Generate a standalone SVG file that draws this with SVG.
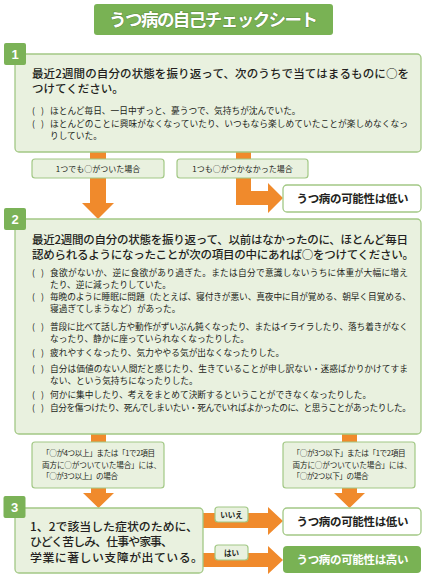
<svg xmlns="http://www.w3.org/2000/svg" width="426" height="576" viewBox="0 0 426 576">
<style>
text{font-family:"Noto Sans CJK JP","Noto Sans",sans-serif;fill:#231f20}
.box{fill:#e9f1df;stroke:#a2c885;stroke-width:1.3}
.lbl{fill:#e9f1df;stroke:#a2c885;stroke-width:1.2}
.res{fill:#ffffff;stroke:#a2c885;stroke-width:1.3}
.num{fill:#7bb257}
.numt{font-family:"Liberation Sans",sans-serif;font-weight:bold;font-size:13px;fill:#fff;text-anchor:middle}
.h{font-size:11.5px;font-weight:500}
.it{font-size:8.7px}
.lt{font-size:8px}
.st{font-size:7.6px}
.rt{font-size:11.5px;font-weight:bold;text-anchor:middle}
.b3{font-size:11.9px;font-weight:500}
.arrow{fill:#f08a2c}
</style>

<g id="title">
<rect x="94" y="4" width="239" height="31" rx="3" fill="#79b254"/>
<text x="213.5" y="26" text-anchor="middle" font-size="17.5" font-weight="bold" style="fill:#fff" stroke="#5f8f42" stroke-width="1" paint-order="stroke" textLength="209" lengthAdjust="spacing">うつ病の自己チェックシート</text>
</g>

<g id="connectors">
<path class="arrow" d="M90,151 H106 V203 H114 L98,219 L82,203 H90 Z"/>
<path class="arrow" d="M236,151 H251 V191 H268 V183 L283,198 L268,213 V205 H236 Z"/>
<path class="arrow" d="M91,433 H106 V493 H114 L98.5,508 L83,493 H91 Z"/>
<path class="arrow" d="M342,433 H357 V493 H365 L349.5,508 L334,493 H342 Z"/>
<path class="arrow" d="M203,513 H268 V507 L283,521 L268,535 V528 H203 Z"/>
<path class="arrow" d="M203,553 H268 V546 L283,560 L268,574 V567 H203 Z"/>
</g>

<g id="step1">
<rect class="box" x="15" y="54" width="406" height="98" rx="4"/>
<rect class="num" x="4" y="43" width="22" height="22" rx="2"/>
<text class="numt" x="15" y="59">1</text>
<text class="h" x="32" y="78" textLength="377" lengthAdjust="spacing">最近2週間の自分の状態を振り返って、次のうちで当てはまるものに○を</text>
<text class="h" x="32" y="93">つけてください。</text>
<text class="it" y="113.5"><tspan x="32">(</tspan><tspan x="41">)</tspan><tspan x="50">ほとんど毎日、一日中ずっと、憂うつで、気持ちが沈んでいた。</tspan></text>
<text class="it" y="126.5"><tspan x="32">(</tspan><tspan x="41">)</tspan><tspan x="50" textLength="358" lengthAdjust="spacing">ほとんどのことに興味がなくなっていたり、いつもなら楽しめていたことが楽しめなくなっ</tspan></text>
<text class="it" x="50" y="138.5">りしていた。</text>
</g>

<g id="label-any">
<rect class="lbl" x="32" y="159" width="132" height="19" rx="3"/>
<text class="lt" x="98" y="171.5" text-anchor="middle">1つでも○がついた場合</text>
</g>
<g id="label-none">
<rect class="lbl" x="177" y="159" width="131" height="19" rx="3"/>
<text class="lt" x="242.5" y="171.5" text-anchor="middle">1つも○がつかなかった場合</text>
</g>
<g id="result-low-1">
<rect class="res" x="283" y="185" width="138" height="27" rx="4"/>
<text class="rt" x="352.5" y="203" textLength="112" lengthAdjust="spacing">うつ病の可能性は低い</text>
</g>

<g id="step2">
<rect class="box" x="15" y="219" width="406" height="215" rx="4"/>
<rect class="num" x="4" y="208" width="22" height="22" rx="2"/>
<text class="numt" x="15" y="224">2</text>
<text class="h" x="32" y="244" textLength="376" lengthAdjust="spacing">最近2週間の自分の状態を振り返って、以前はなかったのに、ほとんど毎日</text>
<text class="h" x="32" y="259" textLength="382" lengthAdjust="spacing">認められるようになったことが次の項目の中にあれば○をつけてください。</text>
<text class="it" y="276"><tspan x="32">(</tspan><tspan x="41">)</tspan><tspan x="50" textLength="358" lengthAdjust="spacing">食欲がないか、逆に食欲があり過ぎた。または自分で意識しないうちに体重が大幅に増え</tspan></text>
<text class="it" x="50" y="288">たり、逆に減ったりしていた。</text>
<text class="it" y="300"><tspan x="32">(</tspan><tspan x="41">)</tspan><tspan x="50" textLength="361" lengthAdjust="spacing">毎晩のように睡眠に問題（たとえば、寝付きが悪い、真夜中に目が覚める、朝早く目覚める、</tspan></text>
<text class="it" x="50" y="311.5">寝過ぎてしまうなど）があった。</text>
<text class="it" y="330"><tspan x="32">(</tspan><tspan x="41">)</tspan><tspan x="50" textLength="358" lengthAdjust="spacing">普段に比べて話し方や動作がずいぶん鈍くなったり、またはイライラしたり、落ち着きがなく</tspan></text>
<text class="it" x="50" y="341.5">なったり、静かに座っていられなくなったりした。</text>
<text class="it" y="356"><tspan x="32">(</tspan><tspan x="41">)</tspan><tspan x="50">疲れやすくなったり、気力ややる気が出なくなったりした。</tspan></text>
<text class="it" y="372"><tspan x="32">(</tspan><tspan x="41">)</tspan><tspan x="50" textLength="358" lengthAdjust="spacing">自分は価値のない人間だと感じたり、生きていることが申し訳ない・迷惑ばかりかけてすま</tspan></text>
<text class="it" x="50" y="383.5">ない、という気持ちになったりした。</text>
<text class="it" y="398"><tspan x="32">(</tspan><tspan x="41">)</tspan><tspan x="50">何かに集中したり、考えをまとめて決断するということができなくなったりした。</tspan></text>
<text class="it" y="410.5"><tspan x="32">(</tspan><tspan x="41">)</tspan><tspan x="50" textLength="361" lengthAdjust="spacing">自分を傷つけたり、死んでしまいたい・死んでいればよかったのに、と思うことがあったりした。</tspan></text>
</g>

<g id="label-more">
<rect class="lbl" x="32" y="442" width="132" height="46" rx="3"/>
<text class="st" x="42" y="456" textLength="113" lengthAdjust="spacing">「○が4つ以上」または「1で2項目</text>
<text class="st" x="42" y="467.5" textLength="119" lengthAdjust="spacing">両方に○がついていた場合」には、</text>
<text class="st" x="42" y="479" textLength="76" lengthAdjust="spacing">「○が3つ以上」の場合</text>
</g>
<g id="label-less">
<rect class="lbl" x="283" y="442" width="132" height="46" rx="3"/>
<text class="st" x="292.5" y="456" textLength="113" lengthAdjust="spacing">「○が3つ以下」または「1で2項目</text>
<text class="st" x="292.5" y="467.5" textLength="119" lengthAdjust="spacing">両方に○がついていた場合」には、</text>
<text class="st" x="292.5" y="479" textLength="76" lengthAdjust="spacing">「○が2つ以下」の場合</text>
</g>

<g id="step3">
<rect class="box" x="15" y="508" width="188" height="65" rx="4"/>
<rect class="num" x="3.5" y="496" width="22" height="22" rx="2"/>
<text class="numt" x="14.5" y="512">3</text>
<text class="b3" x="30" y="530.5" textLength="168" lengthAdjust="spacing">1、2で該当した症状のために、</text>
<text class="b3" x="30" y="546" textLength="143" lengthAdjust="spacing">ひどく苦しみ、仕事や家事、</text>
<text class="b3" x="30" y="561.5" textLength="173" lengthAdjust="spacing">学業に著しい支障が出ている。</text>
</g>

<g id="label-no">
<rect class="lbl" x="215" y="507" width="33" height="15" rx="3"/>
<text x="231.5" y="517.5" font-size="7.5" font-weight="bold" text-anchor="middle">いいえ</text>
</g>
<g id="label-yes">
<rect class="lbl" x="215" y="545" width="33" height="15" rx="3"/>
<text x="231.5" y="555.5" font-size="7.5" font-weight="bold" text-anchor="middle">はい</text>
</g>

<g id="result-low-2">
<rect class="res" x="283" y="508" width="138" height="27" rx="4"/>
<text class="rt" x="352.5" y="526" textLength="112" lengthAdjust="spacing">うつ病の可能性は低い</text>
</g>
<g id="result-high">
<rect x="283" y="546" width="138" height="27" rx="4" fill="#79b254"/>
<text class="rt" x="352.5" y="564" textLength="112" lengthAdjust="spacing" style="fill:#fff">うつ病の可能性は高い</text>
</g>
</svg>
